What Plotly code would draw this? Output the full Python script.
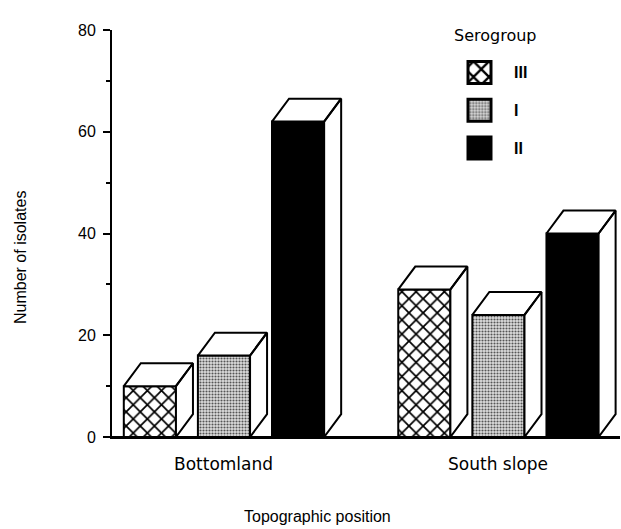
import plotly.graph_objects as go

# ---- data ----
categories = ["Bottomland", "South slope"]
serogroups = ["III", "I", "II"]
values_III = [10, 29]
values_I = [16, 24]
values_II = [62, 40]
y_ticks = [0, 20, 40, 60, 80]
y_minor = [10, 30, 50, 70]
x_title = "Topographic position"
y_title = "Number of isolates"
legend_title = "Serogroup"

series = [values_III, values_I, values_II]

# ---- geometry (in axis units) ----
group_pos = [0, 1]
offsets = [-0.27, 0.0, 0.27]
bar_w = 0.19
dx = 0.062      # 3D depth, x units
dy = 4.5        # 3D depth, y units

patterns = [
    dict(shape="x", size=10, solidity=0.32, fgcolor="black", bgcolor="white", fillmode="replace"),
    dict(shape=".", size=3, solidity=0.4, fgcolor="#555555", bgcolor="#dedede", fillmode="replace"),
    dict(shape="", fgcolor="black", bgcolor="black"),
]
legend_patterns = [
    dict(shape="x", size=11, solidity=0.38, fgcolor="black", bgcolor="white", fillmode="replace"),
    dict(shape=".", size=3, solidity=0.4, fgcolor="#555555", bgcolor="#dedede", fillmode="replace"),
    dict(shape="", fgcolor="black", bgcolor="black"),
]
colors = ["white", "#bdbdbd", "black"]

fig = go.Figure()

for j, name in enumerate(serogroups):
    xs = [g + offsets[j] for g in group_pos]
    fig.add_trace(go.Bar(
        x=xs, y=series[j], width=bar_w, name=name,
        marker=dict(color=colors[j], pattern=patterns[j],
                    line=dict(color="black", width=2)),
        showlegend=False, hoverinfo="skip",
    ))

# 3D top and side faces derived from the data values
px, py = [], []
for j in range(len(serogroups)):
    for g, v in zip(group_pos, series[j]):
        x0 = g + offsets[j] - bar_w / 2
        x1 = g + offsets[j] + bar_w / 2
        # top face
        px += [x0, x1, x1 + dx, x0 + dx, x0, None]
        py += [v, v, v + dy, v + dy, v, None]
        # side face
        px += [x1, x1, x1 + dx, x1 + dx, x1, None]
        py += [0, v, v + dy, dy, 0, None]
fig.add_trace(go.Scatter(
    x=px, y=py, mode="lines", fill="toself", fillcolor="white",
    line=dict(color="black", width=2), showlegend=False, hoverinfo="skip",
))

# custom legend swatches (larger than plotly's default legend symbols)
for j, name in enumerate(serogroups):
    fig.add_trace(go.Bar(
        x=[1], y=[j], orientation="h", width=0.58, name=name,
        xaxis="x2", yaxis="y2", showlegend=False, hoverinfo="skip",
        marker=dict(color=colors[j], pattern=legend_patterns[j],
                    line=dict(color="black", width=3)),
    ))

W, H = 621, 529
L, R, T, B = 112, 1, 30, 92
pw, ph = W - L - R, H - T - B

def pxx(x):
    return (x - L) / pw

def pyy(y):
    return (T + ph - y) / ph

font_main = "Liberation Sans, Arial, sans-serif"

annotations = []
for g, c in zip(group_pos, categories):
    annotations.append(dict(x=g, y=pyy(464), xref="x", yref="paper", text=c, showarrow=False,
                            xanchor="center", yanchor="middle",
                            font=dict(family="DejaVu Sans", size=17, color="black")))
annotations.append(dict(x=pxx(317), y=pyy(516), xref="paper", yref="paper", text=x_title,
                        showarrow=False, xanchor="center", yanchor="middle",
                        font=dict(family=font_main, size=16, color="black")))
annotations.append(dict(x=pxx(20), y=pyy(258), xref="paper", yref="paper", text=y_title,
                        showarrow=False, textangle=-90, xanchor="center", yanchor="middle",
                        font=dict(family=font_main, size=16, color="black")))
annotations.append(dict(x=pxx(495), y=pyy(35), xref="paper", yref="paper", text=legend_title,
                        showarrow=False, xanchor="center", yanchor="middle",
                        font=dict(family="DejaVu Sans", size=16, color="black")))
for name, yc in zip(serogroups, [72.5, 110.5, 148]):
    annotations.append(dict(x=pxx(512), y=pyy(yc), xref="paper", yref="paper", text="<b>" + name + "</b>",
                            showarrow=False, xanchor="left", yanchor="middle",
                            font=dict(family="Liberation Sans", size=16, color="black")))

fig.update_layout(
    width=W, height=H,
    margin=dict(l=L, r=R, t=T, b=B),
    plot_bgcolor="white", paper_bgcolor="white",
    barmode="overlay",
    xaxis=dict(range=[-0.408, 1.443], showline=True, linecolor="black", linewidth=2,
               showticklabels=False, ticks="", showgrid=False, zeroline=False, fixedrange=True),
    yaxis=dict(range=[0, 80], showline=True, linecolor="black", linewidth=2,
               tickvals=y_ticks, ticks="outside", ticklen=7, tickwidth=2, tickcolor="black",
               minor=dict(tickvals=y_minor, ticks="outside", ticklen=4, tickwidth=2, tickcolor="black"),
               tickfont=dict(family=font_main, size=16, color="black"),
               ticklabelstandoff=4,
               showgrid=False, zeroline=False, fixedrange=True),
    xaxis2=dict(domain=[pxx(465.7), pxx(493.3)], range=[-0.1, 1.1], anchor="y2",
                visible=False, fixedrange=True),
    yaxis2=dict(domain=[pyy(166.9), pyy(53.6)], range=[2.5, -0.5], anchor="x2",
                visible=False, fixedrange=True),
    annotations=annotations,
    shapes=[dict(type="line", xref="paper", yref="y", x0=pxx(105), x1=1, y0=0, y1=0,
                 line=dict(color="black", width=2))],
    showlegend=False,
)

fig.write_html("out.html", config={"displayModeBar": False})

# remove the default page margin so the figure sits at the window's top-left corner
with open("out.html", "r", encoding="utf-8") as f:
    html = f.read()
html = html.replace("<head>", "<head><style>html,body{margin:0;padding:0;overflow:hidden;}</style>", 1)
with open("out.html", "w", encoding="utf-8") as f:
    f.write(html)
